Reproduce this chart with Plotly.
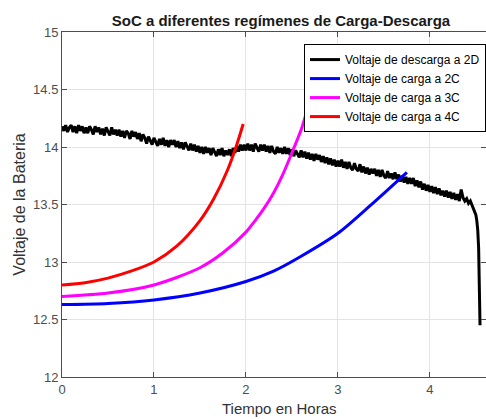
import plotly.graph_objects as go

# ---- data ----
t_desc = [0.00, 0.02, 0.04, 0.06, 0.08, 0.10, 0.12, 0.14, 0.16, 0.18,
          0.20, 0.22, 0.24, 0.26, 0.28, 0.30, 0.32, 0.34, 0.36, 0.38,
          0.40, 0.42, 0.44, 0.46, 0.48, 0.50, 0.52, 0.54, 0.56, 0.58,
          0.60, 0.62, 0.64, 0.66, 0.68, 0.70, 0.72, 0.74, 0.76, 0.78,
          0.80, 0.82, 0.84, 0.86, 0.88, 0.90, 0.92, 0.94, 0.96, 0.98,
          1.00, 1.02, 1.04, 1.06, 1.08, 1.10, 1.12, 1.14, 1.16, 1.18,
          1.20, 1.22, 1.24, 1.26, 1.28, 1.30, 1.32, 1.34, 1.36, 1.38,
          1.40, 1.42, 1.44, 1.46, 1.48, 1.50, 1.52, 1.54, 1.56, 1.58,
          1.60, 1.62, 1.64, 1.66, 1.68, 1.70, 1.72, 1.74, 1.76, 1.78,
          1.80, 1.82, 1.84, 1.86, 1.88, 1.90, 1.92, 1.94, 1.96, 1.98,
          2.00, 2.02, 2.04, 2.06, 2.08, 2.10, 2.12, 2.14, 2.16, 2.18,
          2.20, 2.22, 2.24, 2.26, 2.28, 2.30, 2.32, 2.34, 2.36, 2.38,
          2.40, 2.42, 2.44, 2.46, 2.48, 2.50, 2.52, 2.54, 2.56, 2.58,
          2.60, 2.62, 2.64, 2.66, 2.68, 2.70, 2.72, 2.74, 2.76, 2.78,
          2.80, 2.82, 2.84, 2.86, 2.88, 2.90, 2.92, 2.94, 2.96, 2.98,
          3.00, 3.02, 3.04, 3.06, 3.08, 3.10, 3.12, 3.14, 3.16, 3.18,
          3.20, 3.22, 3.24, 3.26, 3.28, 3.30, 3.32, 3.34, 3.36, 3.38,
          3.40, 3.42, 3.44, 3.46, 3.48, 3.50, 3.52, 3.54, 3.56, 3.58,
          3.60, 3.62, 3.64, 3.66, 3.68, 3.70, 3.72, 3.74, 3.76, 3.78,
          3.80, 3.82, 3.84, 3.86, 3.88, 3.90, 3.92, 3.94, 3.96, 3.98,
          4.00, 4.02, 4.04, 4.06, 4.08, 4.10, 4.12, 4.14, 4.16, 4.18,
          4.20, 4.22, 4.24, 4.26, 4.28, 4.30, 4.32, 4.34, 4.36, 4.38,
          4.40, 4.42, 4.44, 4.46, 4.48, 4.50, 4.51, 4.52, 4.53, 4.535,
          4.54, 4.545]
v_desc = [14.18, 14.14, 14.19, 14.13, 14.17, 14.19, 14.13, 14.18, 14.12, 14.19,
          14.14, 14.18, 14.12, 14.17, 14.12, 14.18, 14.15, 14.11, 14.18, 14.13,
          14.17, 14.11, 14.16, 14.10, 14.17, 14.14, 14.10, 14.17, 14.11, 14.15,
          14.10, 14.15, 14.09, 14.14, 14.08, 14.14, 14.12, 14.07, 14.14, 14.09,
          14.13, 14.07, 14.12, 14.05, 14.11, 14.08, 14.03, 14.09, 14.05, 14.02,
          14.08, 14.04, 14.01, 14.07, 14.02, 14.08, 14.01, 14.06, 14.00, 14.06,
          14.02, 14.06, 14.00, 14.05, 13.99, 14.04, 13.98, 14.04, 14.00, 13.97,
          14.03, 13.97, 14.02, 13.96, 14.01, 13.95, 14.00, 13.94, 14.00, 13.95,
          13.99, 13.93, 13.99, 13.95, 13.92, 13.98, 13.93, 13.99, 13.92, 13.97,
          13.93, 13.98, 13.92, 13.99, 13.95, 14.01, 13.96, 14.02, 13.97, 14.02,
          13.97, 14.03, 13.97, 14.02, 13.96, 14.03, 13.99, 13.96, 14.02, 13.97,
          14.02, 13.96, 14.01, 13.95, 14.01, 13.96, 13.94, 14.00, 13.95, 13.99,
          13.94, 14.00, 13.94, 13.99, 13.93, 13.98, 13.92, 13.97, 13.94, 13.91,
          13.97, 13.91, 13.96, 13.90, 13.95, 13.89, 13.94, 13.88, 13.94, 13.89,
          13.93, 13.87, 13.92, 13.86, 13.91, 13.85, 13.90, 13.84, 13.89, 13.83,
          13.88, 13.83, 13.89, 13.82, 13.87, 13.81, 13.87, 13.82, 13.80, 13.86,
          13.81, 13.79, 13.85, 13.78, 13.83, 13.77, 13.82, 13.76, 13.81, 13.77,
          13.81, 13.75, 13.80, 13.74, 13.80, 13.75, 13.73, 13.79, 13.73, 13.77,
          13.72, 13.78, 13.72, 13.76, 13.70, 13.75, 13.69, 13.74, 13.68, 13.73,
          13.68, 13.73, 13.66, 13.71, 13.65, 13.70, 13.63, 13.68, 13.62, 13.67,
          13.61, 13.66, 13.60, 13.65, 13.59, 13.64, 13.58, 13.62, 13.57, 13.62,
          13.56, 13.61, 13.55, 13.60, 13.54, 13.59, 13.53, 13.63, 13.56, 13.53,
          13.55, 13.51, 13.53, 13.49, 13.46, 13.41, 13.36, 13.28, 13.12, 12.90,
          12.68, 12.45]

t_2c = [0.0, 0.5, 1.0, 1.5, 2.0, 2.3, 2.6, 3.0, 3.35, 3.75]
v_2c = [12.63, 12.64, 12.67, 12.73, 12.83, 12.92, 13.05, 13.25, 13.49, 13.78]

t_3c = [0.0, 0.5, 1.0, 1.5, 1.75, 2.0, 2.1, 2.2, 2.3, 2.4, 2.5, 2.6, 2.65]
v_3c = [12.70, 12.73, 12.80, 12.95, 13.08, 13.26, 13.36, 13.47, 13.60, 13.76, 13.95, 14.15, 14.28]

t_4c = [0.0, 0.25, 0.5, 0.75, 1.0, 1.25, 1.5, 1.65, 1.8, 1.9, 1.97]
v_4c = [12.80, 12.82, 12.86, 12.92, 13.00, 13.14, 13.36, 13.55, 13.80, 14.02, 14.20]

names = ["Voltaje de descarga a 2D", "Voltaje de carga a 2C",
         "Voltaje de carga a 3C", "Voltaje de carga a 4C"]
colors = ["#000000", "#0000ff", "#ff00ff", "#ff0000"]
x_ticks = [0, 1, 2, 3, 4]
y_ticks = [12, 12.5, 13, 13.5, 14, 14.5, 15]
y_tick_text = ["12", "12.5", "13", "13.5", "14", "14.5", "15"]

FONT = "Liberation Sans, Arial, sans-serif"

fig = go.Figure()
fig.add_trace(go.Scatter(x=t_desc, y=v_desc, mode="lines", name=names[0],
                         line=dict(color=colors[0], width=3)))
for tt, vv, nm, cl in [(t_2c, v_2c, names[1], colors[1]),
                       (t_3c, v_3c, names[2], colors[2]),
                       (t_4c, v_4c, names[3], colors[3])]:
    fig.add_trace(go.Scatter(x=tt, y=vv, mode="lines", name=nm,
                             line=dict(color=cl, width=3, shape="spline", smoothing=0.8)))

axis_common = dict(showline=True, linecolor="#4d4d4d", linewidth=1, mirror="allticks",
                   ticks="inside", ticklen=5, tickcolor="#4d4d4d",
                   showgrid=True, gridcolor="#e3e3e3", gridwidth=1, zeroline=False,
                   tickfont=dict(family=FONT, size=13, color="#4d4d4d"))

fig.update_layout(
    width=486, height=419,
    margin=dict(l=62, r=0, t=32, b=42),
    paper_bgcolor="white", plot_bgcolor="white",
    title=dict(text="<b>SoC a diferentes regímenes de Carga-Descarga</b>",
               xref="paper", x=0.5165, xanchor="center",
               yref="container", y=0.95, yanchor="middle",
               font=dict(family=FONT, size=15, color="#1a1a1a")),
    xaxis=dict(range=[0, 4.61], tickvals=x_ticks, ticktext=[str(v) for v in x_ticks],
               **axis_common),
    yaxis=dict(range=[12, 15], tickvals=y_ticks, ticktext=y_tick_text,
               title=dict(text="Voltaje de la Bateria", standoff=3,
                          font=dict(family=FONT, size=16, color="#333333")),
               **axis_common),
    legend=dict(x=1, xanchor="right", y=0.965, yanchor="top",
                bgcolor="white", bordercolor="#000000", borderwidth=1,
                font=dict(family=FONT, size=12, color="#000000"),
                tracegroupgap=0, itemwidth=30),
    showlegend=True,
    annotations=[dict(text="Tiempo en Horas", xref="paper", yref="paper",
                      x=0.514, y=-0.09, xanchor="center", yanchor="middle",
                      showarrow=False,
                      font=dict(family=FONT, size=15, color="#333333"))],
)

fig.write_html("out.html", config={"displayModeBar": False},
               post_script="document.body.style.margin='0';")
